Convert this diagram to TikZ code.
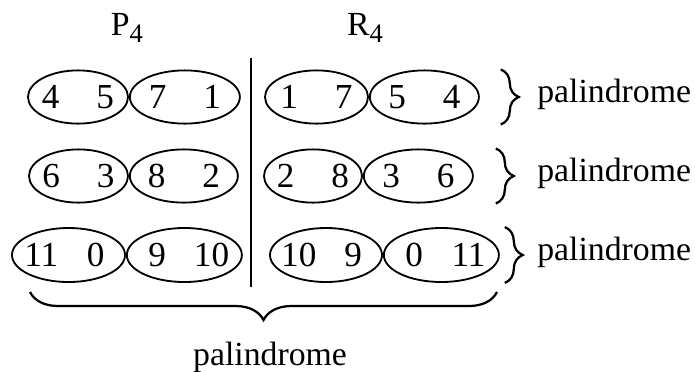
\documentclass[tikz,border=0pt]{standalone}
\usepackage{fontspec}
\setmainfont{Liberation Serif}
\usetikzlibrary{shapes.geometric,decorations.pathreplacing,positioning}
\newcommand{\numpair}[2]{\makebox[0pt]{\makebox[1em]{#1}\hspace{0.55em}\makebox[1em]{#2}}}
\newcommand{\lowidx}[1]{\raisebox{-0.22em}{\fontsize{19}{19}\selectfont #1}}
\tikzset{cell/.append style={ellipse, draw, line width=1.3pt, inner sep=0pt, minimum height=1.33cm, font=\fontsize{25}{29}\selectfont},
  brc/.style={decorate, decoration={brace, amplitude=0.45cm}, line width=1.6pt},
  word/.style={font=\fontsize{24}{28}\selectfont, inner sep=0pt},
  head/.style={font=\fontsize{24}{28}\selectfont, inner sep=0pt}}

\begin{document}
\begin{tikzpicture}[x=0.025cm, y=-0.025cm, node distance=0pt]
    \useasboundingbox (0,0) rectangle (695,371);

    % Headings
    \node (ph) [head, anchor=base] at (127,35) {P\lowidx{4}};
    \node (rh) [head, anchor=base] at (365,35) {R\lowidx{4}};

    % Nodes
    \node (l1a) [cell, minimum width=2.5cm] at (78,97) {\numpair{4}{5}};
    \node (l1b) [cell, minimum width=2.75cm, right=of l1a] {\numpair{7}{1}};
    \node (r1a) [cell, minimum width=2.575cm] at (316.5,97) {\numpair{1}{7}};
    \node (r1b) [cell, minimum width=2.725cm, right=of r1a] {\numpair{5}{4}};

    \node (l2a) [cell, minimum width=2.475cm] at (78.5,176) {\numpair{6}{3}};
    \node (l2b) [cell, minimum width=2.7cm, right=of l2a] {\numpair{8}{2}};
    \node (r2a) [cell, minimum width=2.45cm] at (313,176) {\numpair{2}{8}};
    \node (r2b) [cell, minimum width=2.725cm, right=of r2a] {\numpair{3}{6}};

    \node (l3a) [cell, minimum width=2.825cm, minimum height=1.35cm] at (68.5,255) {\numpair{11}{0}};
    \node (l3b) [cell, minimum width=2.875cm, minimum height=1.35cm, right=of l3a] {\numpair{9}{10}};
    \node (r3a) [cell, minimum width=2.8cm, minimum height=1.35cm] at (326,255) {\numpair{10}{9}};
    \node (r3b) [cell, minimum width=2.875cm, minimum height=1.35cm, right=of r3a] {\numpair{0}{11}};

    \node (w1) [word, anchor=base west] at (537,102) {palindrome};
    \node (w2) [word, anchor=base west] at (537,181) {palindrome};
    \node (w3) [word, anchor=base west] at (537,260) {palindrome};
    \node (wb) [word, anchor=base] at (270,365) {palindrome};

    % Divider
    \coordinate (dt) at (251,58);
    \coordinate (db) at (251,287);
    \draw [line width=1.6pt] (dt) -- (db);

    % Braces
    \draw [brc] ([xshift=0.525cm]r1b.north -| r1b.east) -- ([xshift=0.525cm]r1b.south -| r1b.east);
    \draw [brc] ([xshift=0.55cm]r2b.north -| r2b.east) -- ([xshift=0.55cm]r2b.south -| r2b.east);
    \draw [brc] ([xshift=0.125cm]r3b.north -| r3b.east) -- ([xshift=0.125cm]r3b.south -| r3b.east);

    \coordinate (bl) at (30,292);
    \coordinate (br) at (497,292);
    \draw [brc, decoration={amplitude=0.7cm}] (br) -- (bl);

\end{tikzpicture}
\end{document}
